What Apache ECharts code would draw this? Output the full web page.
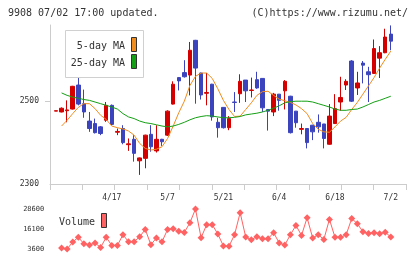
<!DOCTYPE html>
<html>
<head>
<meta charset="utf-8">
<script src="https://cdn.jsdelivr.net/npm/echarts@6/dist/echarts.min.js"></script>
<style>
  html, body { margin: 0; padding: 0; background: #fff; }
  #chart { width: 420px; height: 259px; }
</style>
</head>
<body>
<div id="chart"></div>
<script>
const dates = ['4/3','4/6','4/7','4/8','4/9','4/10','4/13','4/14','4/15','4/16',
  '4/17','4/20','4/21','4/22','4/23','4/24','4/27','4/28','4/30','5/1',
  '5/7','5/8','5/11','5/12','5/13','5/14','5/15','5/18','5/19','5/20',
  '5/21','5/22','5/25','5/26','5/27','5/28','5/29','6/1','6/2','6/3',
  '6/4','6/5','6/8','6/9','6/10','6/11','6/12','6/15','6/16','6/17',
  '6/18','6/19','6/22','6/23','6/24','6/25','6/26','6/29','6/30','7/1','7/2'];

const opens = [2476,2474,2477,2481,2539,2494,2452,2446,2438,2454,
  2490,2425,2434,2395,2408,2356,2362,2420,2380,2408,
  2418,2493,2557,2569,2563,2647,2568,2519,2541,2449,
  2485,2436,2498,2518,2551,2526,2552,2555,2480,2474,
  2517,2525,2512,2476,2432,2434,2442,2449,2445,2396,
  2446,2498,2539,2597,2532,2592,2571,2567,2604,2617,2662];
const closes = [2477,2483,2479,2536,2493,2474,2434,2424,2422,2490,
  2444,2427,2400,2397,2374,2363,2418,2390,2408,2402,
  2476,2541,2549,2559,2623,2580,2515,2521,2462,2436,
  2436,2458,2497,2548,2525,2527,2532,2484,2476,2517,
  2502,2548,2424,2448,2434,2400,2426,2438,2410,2464,
  2482,2509,2548,2500,2544,2587,2564,2627,2617,2655,2645];
const lows = [2476,2473,2449,2480,2490,2460,2426,2422,2418,2450,
  2442,2418,2396,2380,2354,2322,2338,2378,2376,2392,
  2416,2492,2526,2557,2514,2494,2504,2490,2453,2412,
  2434,2430,2474,2496,2498,2509,2530,2474,2429,2464,
  2477,2480,2422,2436,2420,2386,2406,2424,2386,2395,
  2445,2477,2527,2498,2515,2543,2498,2566,2556,2616,2623];
const highs = [2477,2485,2502,2537,2559,2528,2474,2458,2440,2498,
  2492,2434,2442,2410,2418,2364,2419,2442,2442,2409,
  2478,2548,2558,2599,2643,2648,2569,2568,2542,2460,
  2486,2464,2522,2565,2551,2557,2571,2555,2480,2520,
  2517,2551,2513,2476,2446,2435,2443,2468,2445,2493,
  2517,2559,2553,2599,2571,2597,2583,2649,2633,2675,2683];

const ma5 = [null,2440,2454,2470,2485,2494,2494,2482,2466,2456,
  2440,2436,2433,2428,2418,2398,2386,2382,2384,2390,
  2410,2440,2472,2500,2538,2560,2568,2568,2555,2530,
  2502,2480,2463,2464,2480,2496,2514,2523,2524,2514,
  2505,2501,2497,2491,2482,2470,2446,2432,2426,2425,
  2438,2452,2461,2480,2497,2517,2537,2557,2580,2601,2621];
const ma25 = [null,2520,2514,2510,2507,2504,2502,2498,2494,2490,
  2486,2481,2470,2462,2458,2452,2448,2446,2443,2440,
  2438,2440,2444,2449,2455,2460,2463,2465,2464,2462,
  2460,2460,2461,2463,2467,2469,2471,2474,2478,2483,
  2489,2496,2499,2500,2500,2500,2498,2494,2490,2486,
  2481,2478,2478,2480,2481,2486,2492,2498,2502,2507,2512];

const volumes = [null,4200,3600,8000,10900,6900,6100,7350,4600,10900,
  5850,5850,12500,8150,8150,11300,15850,6300,10500,8150,
  15850,16200,14700,13960,20000,28600,10650,18800,18800,12975,
  5500,5300,12500,26300,11100,9400,11300,10000,10000,13800,
  7350,6100,12500,18350,12100,23150,10500,12500,9600,22100,
  10900,10900,12500,22700,19400,14400,13350,13800,13100,14100,11100];

const priceTicks = [2300, 2500];
const volumeTicks = [3600, 16100, 28600];

const candles = dates.map((d, i) => [opens[i], closes[i], lows[i], highs[i]]);

const mono = 'DejaVu Sans Mono';
const axisGrey = '#cccccc';
const textColor = '#333333';
const upColor = '#d40000';
const downColor = '#3b44bd';
const ma5Color = '#f08c1e';
const ma25Color = '#14a014';
const volColor = '#ff6262';

const chart = echarts.init(document.getElementById('chart'), null, { renderer: 'canvas' });

chart.setOption({
  animation: false,
  backgroundColor: '#fff',
  grid: [
    // frame: y axis + weekly ticks
    { left: 50, right: 14, top: 25, height: 159 },
    // candles
    { left: 53.2, right: 26.4, top: 25, height: 159 },
    // volume
    { left: 53.2, right: 26.4, top: 209, height: 40 },
  ],
  xAxis: [
    {
      gridIndex: 0, type: 'value', min: 0, max: 11, interval: 1,
      axisLine: { lineStyle: { color: axisGrey } },
      axisTick: { length: 6, lineStyle: { color: axisGrey } },
      axisLabel: { show: false },
      splitLine: { show: false },
    },
    {
      gridIndex: 1, type: 'category', data: dates, boundaryGap: true,
      axisLine: { show: false },
      axisTick: { show: false },
      axisLabel: {
        interval: (idx) => idx > 0 && idx % 10 === 0,
        margin: 10, fontSize: 8, fontFamily: mono, color: textColor,
      },
    },
    {
      gridIndex: 2, type: 'category', data: dates, boundaryGap: true, show: false,
    },
  ],
  yAxis: [
    {
      gridIndex: 0, type: 'value', min: 2300, max: 2684,
      axisLine: { show: true, lineStyle: { color: axisGrey } },
      axisTick: { show: true, length: 5, customValues: [2500], lineStyle: { color: axisGrey } },
      axisLabel: {
        customValues: priceTicks, margin: 11, fontSize: 8, fontFamily: mono, color: textColor,
        formatter: (v) => String(v),
      },
      splitLine: { show: false },
    },
    { gridIndex: 1, type: 'value', min: 2300, max: 2684, show: false },
    {
      gridIndex: 2, type: 'value', min: 3600, max: 28600,
      axisLine: { show: false },
      axisTick: { show: false },
      axisLabel: {
        customValues: volumeTicks, margin: 9, fontSize: 7, fontFamily: mono, color: textColor,
        formatter: (v) => String(v),
      },
      splitLine: { show: false },
    },
  ],
  series: [
    {
      type: 'candlestick', xAxisIndex: 1, yAxisIndex: 1, data: candles,
      barWidth: 4,
      itemStyle: { color: upColor, color0: downColor, borderColor: upColor, borderColor0: downColor, borderWidth: 1 },
    },
    {
      type: 'line', xAxisIndex: 1, yAxisIndex: 1, data: ma5, symbol: 'none',
      lineStyle: { color: ma5Color, width: 1 },
    },
    {
      type: 'line', xAxisIndex: 1, yAxisIndex: 1, data: ma25, symbol: 'none',
      lineStyle: { color: ma25Color, width: 1 },
    },
    {
      type: 'line', xAxisIndex: 2, yAxisIndex: 2, data: volumes,
      symbol: 'diamond', symbolSize: 7, showAllSymbol: true,
      itemStyle: { color: volColor },
      lineStyle: { color: volColor, width: 1 },
    },
  ],
  graphic: [
    { type: 'text', left: 8, top: 8, style: { text: '9908 07/02 17:00 updated.', font: `10px "${mono}"`, fill: textColor } },
    { type: 'text', right: 12, top: 8, style: { text: '(C)https://www.rizumu.net/', font: `10px "${mono}"`, fill: textColor } },
    // legend box
    { type: 'rect', z: 100, shape: { x: 65.5, y: 30.5, width: 78, height: 47 }, style: { fill: '#fff', stroke: '#d0d0d0', lineWidth: 1 } },
    { type: 'text', z: 101, style: { text: '5-day MA', x: 125, y: 46, align: 'right', verticalAlign: 'middle', font: `10px "${mono}"`, fill: textColor } },
    { type: 'text', z: 101, style: { text: '25-day MA', x: 125, y: 63, align: 'right', verticalAlign: 'middle', font: `10px "${mono}"`, fill: textColor } },
    { type: 'rect', z: 101, shape: { x: 131.5, y: 37.5, width: 5, height: 14 }, style: { fill: ma5Color, stroke: '#333', lineWidth: 1 } },
    { type: 'rect', z: 101, shape: { x: 131.5, y: 54.5, width: 5, height: 14 }, style: { fill: ma25Color, stroke: '#333', lineWidth: 1 } },
    // volume label
    { type: 'text', z: 101, style: { text: 'Volume', x: 59, y: 222, verticalAlign: 'middle', font: `10px "${mono}"`, fill: textColor } },
    { type: 'rect', z: 101, shape: { x: 101.5, y: 213.5, width: 5, height: 14 }, style: { fill: volColor, stroke: '#333', lineWidth: 1 } },
  ],
});
</script>
</body>
</html>
